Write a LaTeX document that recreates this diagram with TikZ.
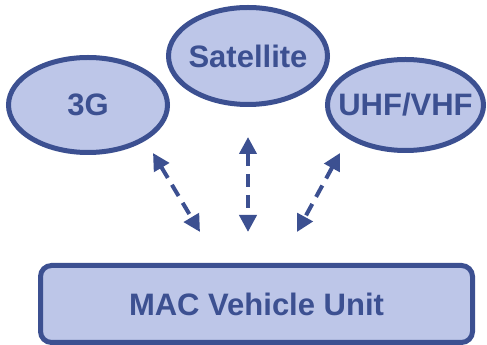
\documentclass[tikz,border=0pt]{standalone}
\usepackage{fontspec}
\setmainfont{Liberation Sans}
\usetikzlibrary{shapes.geometric,arrows.meta}
\definecolor{edgeblue}{HTML}{3C5091}
\definecolor{fillblue}{HTML}{BDC6E8}
\tikzset{
  netnode/.style={ellipse,draw=edgeblue,fill=fillblue,line width=5pt,inner sep=0pt,
    text=edgeblue,font=\fontsize{31}{36}\selectfont\bfseries},
  unitbox/.style={rectangle,rounded corners=11pt,draw=edgeblue,fill=fillblue,line width=5pt,inner sep=0pt,
    text=edgeblue,font=\fontsize{31}{36}\selectfont\bfseries},
  link/.style={draw=edgeblue,line width=4pt,dash pattern=on 13pt off 8pt,
    {Triangle[length=17pt,width=17pt]}-{Triangle[length=17pt,width=17pt]}}
}
\begin{document}
\begin{tikzpicture}[x=1pt,y=1pt]
\useasboundingbox (0,0) rectangle (487,345);
\node[netnode,minimum width=159pt,minimum height=95pt] (g3) at (88,240) {\makebox[0pt]{3G}};
\node[netnode,minimum width=159pt,minimum height=97pt] (sat) at (248,289) {\makebox[0pt]{Satellite}};
\node[netnode,minimum width=156pt,minimum height=91pt] (uhf) at (405.5,240) {\makebox[0pt]{UHF/VHF}};
\node[unitbox,minimum width=432pt,minimum height=77pt] (mac) at (256.5,41) {MAC Vehicle Unit};
\coordinate (a1) at (153,192);
\coordinate (b1) at (200,113);
\coordinate (a2) at (248,208);
\coordinate (b2) at (248,113);
\coordinate (a3) at (340,192);
\coordinate (b3) at (297,113);
\draw[link] (a1) -- (b1);
\draw[link] (a2) -- (b2);
\draw[link] (a3) -- (b3);
\end{tikzpicture}
\end{document}
